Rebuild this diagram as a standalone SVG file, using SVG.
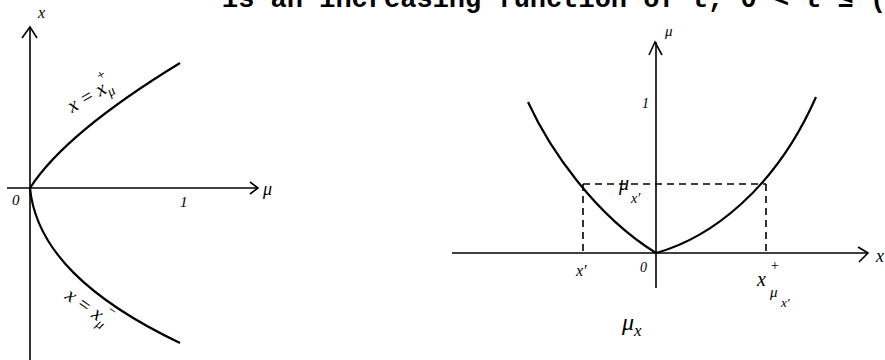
<svg xmlns="http://www.w3.org/2000/svg" width="885" height="360" viewBox="0 0 885 360">
<style>
.ax{fill:none;stroke:#000;stroke-width:1.6}
.cv{fill:none;stroke:#000;stroke-width:2.2}
.ds{fill:none;stroke:#000;stroke-width:1.6;stroke-dasharray:7,5}
.lb{font-family:"Liberation Serif","DejaVu Serif",serif;font-style:italic;fill:#000}
.hd{font-family:"Liberation Mono","DejaVu Sans Mono",monospace;font-weight:bold;fill:#000}
</style>
<text class="hd" x="222" y="7" font-size="27">is an increasing function of t, 0 &lt; t ≤ (</text>
<g id="left-graph">
<g id="connectors-left">
<path class="ax" d="M30,360 L30,28"/>
<path class="ax" d="M22,38 L30,27 L37,38"/>
<path class="ax" d="M7,188 L258,188"/>
<path class="ax" d="M250,182 L258,188 L250,194"/>
</g>
<g id="curve-upper"><path class="cv" d="M30,188 C48,160 90,118 180,63"/></g>
<g id="curve-lower"><path class="cv" d="M30,188 C36,250 90,300 180,343"/></g>
<text class="lb" x="38" y="18" font-size="16">x</text>
<text class="lb" x="12" y="205" font-size="15">0</text>
<text class="lb" x="180" y="207" font-size="15">1</text>
<text class="lb" x="263" y="195" font-size="18">μ</text>
<text class="lb" font-size="20" transform="translate(72,113) rotate(-30)">x = x<tspan font-size="14" dy="5">μ</tspan><tspan font-size="14" dx="-9" dy="-19">+</tspan></text>
<text class="lb" font-size="20" transform="translate(64,298) rotate(35)">x = x<tspan font-size="14" dy="5">μ</tspan><tspan font-size="14" dx="-6" dy="-18">−</tspan></text>
</g>
<g id="right-graph">
<g id="connectors-right">
<path class="ax" d="M656,288 L656,42"/>
<path class="ax" d="M649,55 L655,42 L662,55"/>
<path class="ax" d="M452,253 L868,253"/>
<path class="ax" d="M858,247 L868,253 L859,262"/>
<path class="ds" d="M583,184 L766,184"/>
<path class="ds" d="M583,184 L583,253"/>
<path class="ds" d="M766,184 L766,253"/>
</g>
<g id="curve-left"><path class="cv" d="M528,102 C550,150 595,215 656,253"/></g>
<g id="curve-right"><path class="cv" d="M656,253 C710,238 775,190 816,97"/></g>
<text class="lb" x="665" y="36" font-size="15">μ</text>
<text class="lb" x="642" y="108" font-size="14">1</text>
<text class="lb" x="876" y="262" font-size="18">x</text>
<text class="lb" x="619" y="190" font-size="20">μ</text>
<text class="lb" x="631" y="203" font-size="14">x′</text>
<text class="lb" x="576" y="276" font-size="16">x′</text>
<text class="lb" x="640" y="272" font-size="14">0</text>
<text class="lb" x="757" y="286" font-size="20">x</text>
<text class="lb" x="770" y="270" font-size="14">+</text>
<text class="lb" x="770" y="297" font-size="15">μ</text>
<text class="lb" x="781" y="307" font-size="13">x′</text>
<text class="lb" x="622" y="330" font-size="24">μ<tspan font-size="17" dy="6">x</tspan></text>
</g>
</svg>
